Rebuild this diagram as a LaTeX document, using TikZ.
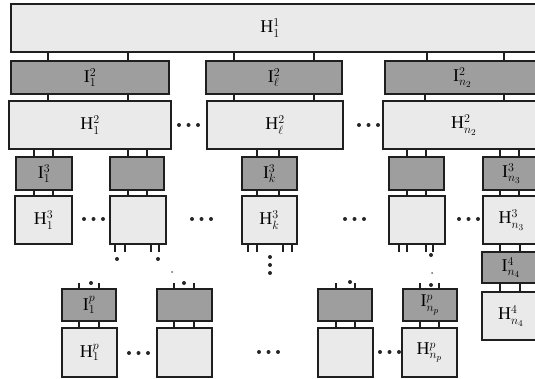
\documentclass[tikz,border=0pt]{standalone}
\usepackage{fontspec}
\setmainfont{Liberation Serif}
\definecolor{ifill}{HTML}{9E9E9E}
\definecolor{hfill}{HTML}{EAEAEA}
\newcommand\bx[7]{\node[#6, minimum width={(#3)-(#2)}, minimum height={(#5)-(#4)}] (#1) at ({((#2)+(#3))/2},{((#4)+(#5))/2}) {#7};}
\newcommand\lnk[3]{\draw[conn] (#1,0 |- #2.south) -- (#1,0 |- #3.north);}
\newcommand\stubd[2]{\draw[conn] (#1,0 |- #2.south) -- ++(0,8);}
\newcommand\stubu[2]{\draw[conn] (#1,0 |- #2.north) -- ++(0,-6);}
\newcommand\ellip[2]{\foreach \k in {0,1,2}{\fill[black!85] ({#1+2+9.5*\k},#2) circle (2.0);}}
\newcommand\lab[1]{\fontsize{18}{21}\selectfont$#1$}
\begin{document}
\begin{tikzpicture}[x=1pt,y=-1pt,
  hbox/.style={draw=black!88, line width=1.2pt, fill=hfill, inner sep=0pt, outer sep=0pt},
  ibox/.style={hbox, fill=ifill},
  conn/.style={draw=black!88, line width=1.1pt}]
\useasboundingbox (0,0) rectangle (535,379);
\clip (0,0) rectangle (535,379);
% level 1
\bx{h11}{11}{548}{4}{52}{hbox}{}
\node (h11l) at (270,28) {\lab{\mathrm{H}^{1}_{1}}};
% level 2
\bx{i21}{11}{169}{61}{94}{ibox}{\lab{\mathrm{I}^{2}_{1}}}
\bx{i2l}{206}{342}{61}{94}{ibox}{\lab{\mathrm{I}^{2}_{\ell}}}
\bx{i2n}{385}{540}{61}{94}{ibox}{\lab{\mathrm{I}^{2}_{n_2}}}
\bx{h21}{9}{171}{101}{149}{hbox}{\lab{\mathrm{H}^{2}_{1}}}
\bx{h2l}{207}{343}{101}{149}{hbox}{\lab{\mathrm{H}^{2}_{\ell}}}
\bx{h2n}{383}{545}{101}{149}{hbox}{\lab{\mathrm{H}^{2}_{n_2}}}
\lnk{48}{h11}{i21}\lnk{128}{h11}{i21}
\lnk{234}{h11}{i2l}\lnk{314}{h11}{i2l}
\lnk{427}{h11}{i2n}\lnk{504}{h11}{i2n}
\lnk{48}{i21}{h21}\lnk{128}{i21}{h21}
\lnk{234}{i2l}{h2l}\lnk{314}{i2l}{h2l}
\lnk{425}{i2n}{h2n}\lnk{504}{i2n}{h2n}
% level 3
\bx{i31}{16}{72}{157}{190}{ibox}{\lab{\mathrm{I}^{3}_{1}}}
\bx{h31}{15}{72}{196}{244}{hbox}{\lab{\mathrm{H}^{3}_{1}}}
\bx{i32}{110}{164}{157}{190}{ibox}{}
\bx{h32}{110}{166}{196}{244}{hbox}{}
\bx{i3k}{242}{297}{157}{190}{ibox}{\lab{\mathrm{I}^{3}_{k}}}
\bx{h3k}{242}{297}{196}{244}{hbox}{\lab{\mathrm{H}^{3}_{k}}}
\bx{i34}{389}{444}{157}{190}{ibox}{}
\bx{h34}{389}{445}{196}{244}{hbox}{}
\bx{i3n}{483}{540}{157}{190}{ibox}{\lab{\mathrm{I}^{3}_{n_3}}}
\bx{h3n}{483}{540}{196}{244}{hbox}{\lab{\mathrm{H}^{3}_{n_3}}}
\lnk{34}{h21}{i31}\lnk{53}{h21}{i31}
\lnk{34}{i31}{h31}\lnk{53}{i31}{h31}
\lnk{128}{h21}{i32}\lnk{147}{h21}{i32}
\lnk{128}{i32}{h32}\lnk{147}{i32}{h32}
\lnk{257}{h2l}{i3k}\lnk{279}{h2l}{i3k}
\lnk{257}{i3k}{h3k}\lnk{279}{i3k}{h3k}
\lnk{407}{h2n}{i34}\lnk{426}{h2n}{i34}
\lnk{407}{i34}{h34}\lnk{426}{i34}{h34}
\lnk{500}{h2n}{i3n}\lnk{519}{h2n}{i3n}
\lnk{500}{i3n}{h3n}\lnk{519}{i3n}{h3n}
% level 4 (right column)
\bx{i4n}{482}{540}{252}{283}{ibox}{\lab{\mathrm{I}^{4}_{n_4}}}
\bx{h4n}{482}{540}{292}{340}{hbox}{\lab{\mathrm{H}^{4}_{n_4}}}
\lnk{500}{h3n}{i4n}\lnk{520}{h3n}{i4n}
\lnk{500}{i4n}{h4n}\lnk{520}{i4n}{h4n}
% stubs below level 3
\stubd{115}{h32}\stubd{125}{h32}\stubd{151}{h32}\stubd{159}{h32}
\stubd{248}{h3k}\stubd{257}{h3k}\stubd{283}{h3k}\stubd{292}{h3k}
\stubd{399}{h34}\stubd{407}{h34}\stubd{426}{h34}\stubd{433}{h34}
% level p
\bx{ip1}{62}{116}{289}{321}{ibox}{\lab{\mathrm{I}^{p}_{1}}}
\bx{hp1}{62}{117}{328}{377}{hbox}{\lab{\mathrm{H}^{p}_{1}}}
\bx{ip2}{157}{212}{289}{321}{ibox}{}
\bx{hp2}{157}{212}{328}{377}{hbox}{}
\bx{ip3}{318}{372}{289}{321}{ibox}{}
\bx{hp3}{318}{373}{328}{377}{hbox}{}
\bx{ipn}{403}{457}{289}{321}{ibox}{\lab{\mathrm{I}^{p}_{n_p}}}
\bx{hpn}{402}{457}{328}{377}{hbox}{\lab{\mathrm{H}^{p}_{n_p}}}
\lnk{79}{ip1}{hp1}\lnk{99}{ip1}{hp1}
\lnk{174}{ip2}{hp2}\lnk{194}{ip2}{hp2}
\lnk{336}{ip3}{hp3}\lnk{355}{ip3}{hp3}
\lnk{420}{ipn}{hpn}\lnk{439}{ipn}{hpn}
\stubu{79}{ip1}\stubu{99}{ip1}
\stubu{174}{ip2}\stubu{194}{ip2}
\stubu{336}{ip3}\stubu{355}{ip3}
\stubu{420}{ipn}\stubu{439}{ipn}
% ellipses
\ellip{177}{125}\ellip{357}{125}
\ellip{82}{219}\ellip{190}{219}\ellip{343}{219}\ellip{457}{219}
\ellip{127}{353}\ellip{257}{352}\ellip{378}{352}
% scattered dots
\foreach \p in {(270,257),(270,265),(270,273),(117,259),(158,259),(431,255),(91,283),(184,283),(350,282),(431,285)}
  \fill[black!85] \p circle (2.0);
\foreach \p in {(172,272),(432,273)}
  \fill[black!60] \p circle (1.0);
\end{tikzpicture}
\end{document}
